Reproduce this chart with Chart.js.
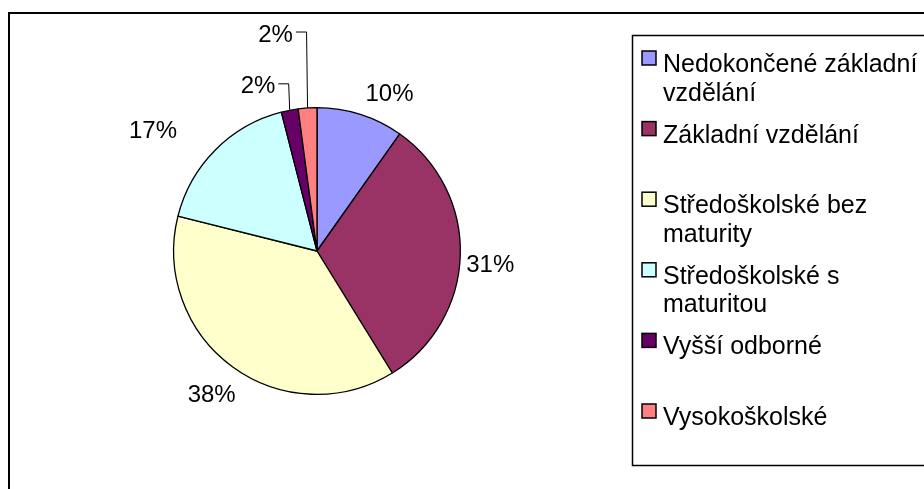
<!DOCTYPE html>
<html lang="cs">
<head>
<meta charset="utf-8">
<title>Vzdělání</title>
<script src="https://cdn.jsdelivr.net/npm/chart.js@4.4.1/dist/chart.umd.min.js"></script>
<style>
    body { margin: 0; background: #fff; }
    #graf { display: block; }
</style>
</head>
<body>
<canvas id="graf" width="924" height="489"></canvas>
<script>
// ======== DATA ========
const kategorie = [
    "Nedokončené základní vzdělání",
    "Základní vzdělání",
    "Středoškolské bez maturity",
    "Středoškolské s maturitou",
    "Vyšší odborné",
    "Vysokoškolské"
];
const hodnoty = [9.8, 31.4, 37.7, 17.1, 1.9, 2.1]; // podíl v %
const barvy = ["#9999FF", "#993366", "#FFFFCC", "#CCFFFF", "#660066", "#FF8080"];

const FONT = '24px "Liberation Sans", Arial, sans-serif';
const FONT_LEGENDA = '25px "Liberation Sans", Arial, sans-serif';

// ======== RÁMEČEK + LEGENDA ========
const ramecek = {
    id: "ramecek",
    beforeDraw(chart) {
        const ctx = chart.ctx;
        ctx.save();
        ctx.fillStyle = "#fff";
        ctx.fillRect(0, 0, chart.width, chart.height);
        ctx.strokeStyle = "#000";
        ctx.lineWidth = 2;
        ctx.strokeRect(9, 13, chart.width + 20, chart.height + 20);
        ctx.restore();
    },
    afterDraw(chart) {
        const ctx = chart.ctx;
        ctx.save();
        // box legendy
        ctx.strokeStyle = "#000";
        ctx.lineWidth = 1.5;
        ctx.strokeRect(632.5, 35.5, 320, 430);

        ctx.font = FONT_LEGENDA;
        ctx.textBaseline = "alphabetic";
        ctx.textAlign = "left";
        const maxSirka = 262;
        kategorie.forEach((nazev, i) => {
            const y0 = 72 + i * 70.6;
            // čtvereček
            ctx.fillStyle = barvy[i];
            ctx.fillRect(642, y0 - 21, 14, 14);
            ctx.strokeStyle = "#000";
            ctx.lineWidth = 1.5;
            ctx.strokeRect(642, y0 - 21, 14, 14);
            // zalomení textu
            const slova = nazev.split(" ");
            const radky = [];
            let radek = "";
            slova.forEach(s => {
                const zkus = radek ? radek + " " + s : s;
                if (ctx.measureText(zkus).width > maxSirka && radek) {
                    radky.push(radek);
                    radek = s;
                } else {
                    radek = zkus;
                }
            });
            radky.push(radek);
            ctx.fillStyle = "#000";
            radky.forEach((r, j) => ctx.fillText(r, 663, y0 + j * 28.5));
        });
        ctx.restore();
    }
};

// ======== POPISKY PROCENT ========
const popisky = {
    id: "popisky",
    afterDatasetsDraw(chart, args, opts) {
        const ctx = chart.ctx;
        const meta = chart.getDatasetMeta(0);
        const data = chart.data.datasets[0].data;
        const celkem = data.reduce((a, b) => a + b, 0);
        ctx.save();
        ctx.font = FONT;
        ctx.fillStyle = "#000";
        ctx.textAlign = "center";
        ctx.textBaseline = "middle";
        meta.data.forEach((arc, i) => {
            const p = arc.getProps(["x", "y", "startAngle", "endAngle", "outerRadius"], true);
            const mid = (p.startAngle + p.endAngle) / 2;
            const cos = Math.cos(mid), sin = Math.sin(mid);
            const posun = opts.posun[i];
            const lx = p.x + cos * (p.outerRadius + 30) + posun[0];
            const ly = p.y + sin * (p.outerRadius + 30) + posun[1];
            const text = Math.round(data[i] / celkem * 100) + "%";
            ctx.fillText(text, lx, ly);
            if (opts.vodici[i]) {
                const ax = p.x + cos * p.outerRadius;
                const ay = p.y + sin * p.outerRadius;
                const w = ctx.measureText(text).width;
                ctx.strokeStyle = "#000";
                ctx.lineWidth = 1;
                ctx.beginPath();
                ctx.moveTo(lx + w / 2 + 3, ly - 3);
                ctx.lineTo(ax - 1, ly - 3);
                ctx.lineTo(ax, ay);
                ctx.stroke();
            }
        });
        ctx.restore();
    }
};

new Chart(document.getElementById("graf"), {
    type: "pie",
    data: {
        labels: kategorie,
        datasets: [{
            data: hodnoty,
            backgroundColor: barvy,
            borderColor: "#000",
            borderWidth: 1.3
        }]
    },
    options: {
        responsive: false,
        animation: false,
        layout: { padding: { left: 173, right: 463, top: 107, bottom: 94 } },
        plugins: {
            legend: { display: false },
            tooltip: { enabled: false },
            popisky: {
                posun: [[20, 9], [0, 9], [-3, 4], [-41, 3], [-26, 6], [-30, -43]],
                vodici: [false, false, false, false, true, true]
            }
        }
    },
    plugins: [ramecek, popisky]
});
</script>
</body>
</html>
